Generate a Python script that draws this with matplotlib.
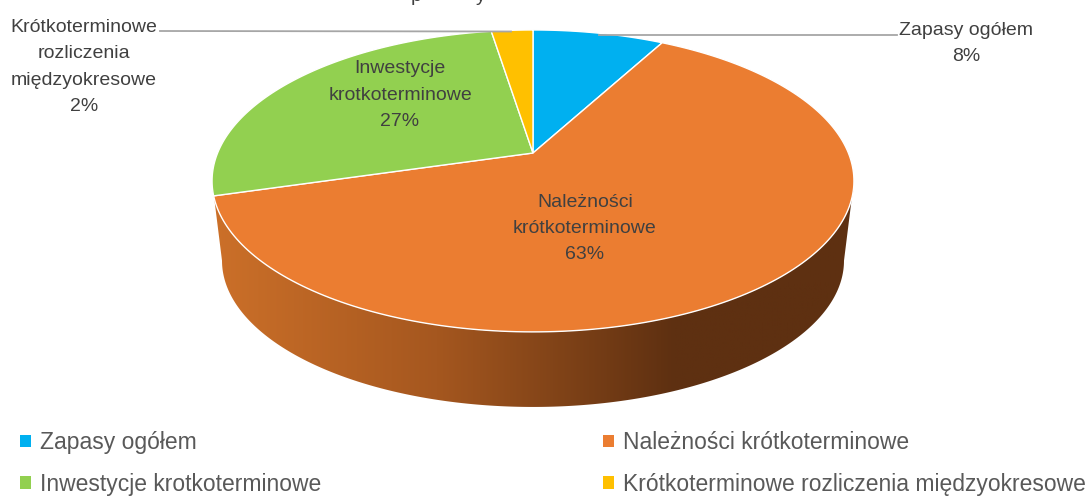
import numpy as np
import matplotlib
matplotlib.use('Agg')
import matplotlib.pyplot as plt
from matplotlib.colors import LinearSegmentedColormap
from matplotlib.patches import Patch, Polygon

plt.rcParams['font.family'] = ['Liberation Sans', 'DejaVu Sans']

categories = ['Zapasy ogółem', 'Należności krótkoterminowe',
              'Inwestycje krotkoterminowe', 'Krótkoterminowe rozliczenia międzyokresowe']
label_lines = ['Zapasy ogółem', 'Należności\nkrótkoterminowe',
               'Inwestycje\nkrotkoterminowe', 'Krótkoterminowe\nrozliczenia\nmiędzyokresowe']
values = [7.9, 62.6, 27.0, 2.5]
colors = ['#00B0F0', '#EB7D31', '#92D050', '#FFC000']
label_pos = [(966, 43.5), (585, 228.5), (400, 95), (84, 67)]

# srodek i perspektywa kola (piksele)
cx, cy = 533, 153
a, b, k = 315.4, 145.8, 0.185
depth_scale, depth_cy = 0.969, 233.6


def rim(theta, x0=cx, y0=cy, s=1.0):
    # theta liczone od gory zgodnie z zegarem
    u, v = np.sin(theta), np.cos(theta)
    w = 1 + k * v
    return x0 + s * a * u / w, y0 - s * b * v / w


fig = plt.figure(figsize=(10.88, 4.98), dpi=100)
ax = fig.add_axes([0, 0, 1, 1])
ax.set_xlim(0, 1088)
ax.set_ylim(498, 0)
ax.axis('off')

# bok kola
th = np.linspace(np.pi / 2 + np.arcsin(k), 3 * np.pi / 2 - np.arcsin(k), 300)
x1, y1 = rim(th)
x2, y2 = rim(th[::-1], cx, depth_cy, depth_scale)
side = Polygon(np.column_stack([np.r_[x1, x2], np.r_[y1, y2]]), closed=True,
               transform=ax.transData, facecolor='none', edgecolor='none')
ax.add_patch(side)
cmap = LinearSegmentedColormap.from_list('bok', [(0, '#CC7029'), (0.35, '#A5571F'),
                                                 (0.72, '#5E3011'), (1, '#5E3011')])
img = ax.imshow(np.linspace(0, 1, 256)[None, :], cmap=cmap, extent=(212, 854, 420, 150),
                aspect='auto', zorder=1)
img.set_clip_path(side)
ax.set_xlim(0, 1088)
ax.set_ylim(498, 0)

# wycinki
start = 0.0
for val, col in zip(values, colors):
    end = start + val / sum(values) * 2 * np.pi
    t = np.linspace(start, end, 200)
    xs, ys = rim(t)
    ax.fill(np.r_[cx, xs], np.r_[cy, ys], facecolor=col, edgecolor='white', linewidth=1, zorder=2)
    start = end

# linie odniesienia
ax.plot([160, 511], [31, 31.5], color='#A6A6A6', lw=1.3, zorder=3)
ax.plot([599, 897], [34.5, 34.5], color='#A6A6A6', lw=1.3, zorder=3)

for lab, val, pos in zip(label_lines, values, label_pos):
    ax.text(pos[0], pos[1], '%s\n%d%%' % (lab, round(val)), ha='center', va='center',
            fontsize=14, color='#404040', linespacing=1.7, zorder=4)

# uciety tytul
ax.text(416.5, 0.5, 'p', ha='center', va='baseline', fontsize=14, color='#404040', clip_on=False)
ax.text(481, 0.5, 'y', ha='center', va='baseline', fontsize=14, color='#404040', clip_on=False)

# legenda wierszami, wiec kolejnosc kolumnami
order = [0, 2, 1, 3]
handles = [Patch(facecolor=colors[i], edgecolor='none') for i in order]
leg = ax.legend(handles, [categories[i] for i in order], ncol=2, loc='lower left',
                bbox_to_anchor=(0.0165, 0.0), frameon=False, fontsize=16.5,
                handlelength=0.45, handleheight=0.45, handletextpad=0.42,
                columnspacing=12.3, labelspacing=0.82, borderpad=0.1, borderaxespad=0,
                labelcolor='#595959')

fig.savefig('out.png', dpi=100)
